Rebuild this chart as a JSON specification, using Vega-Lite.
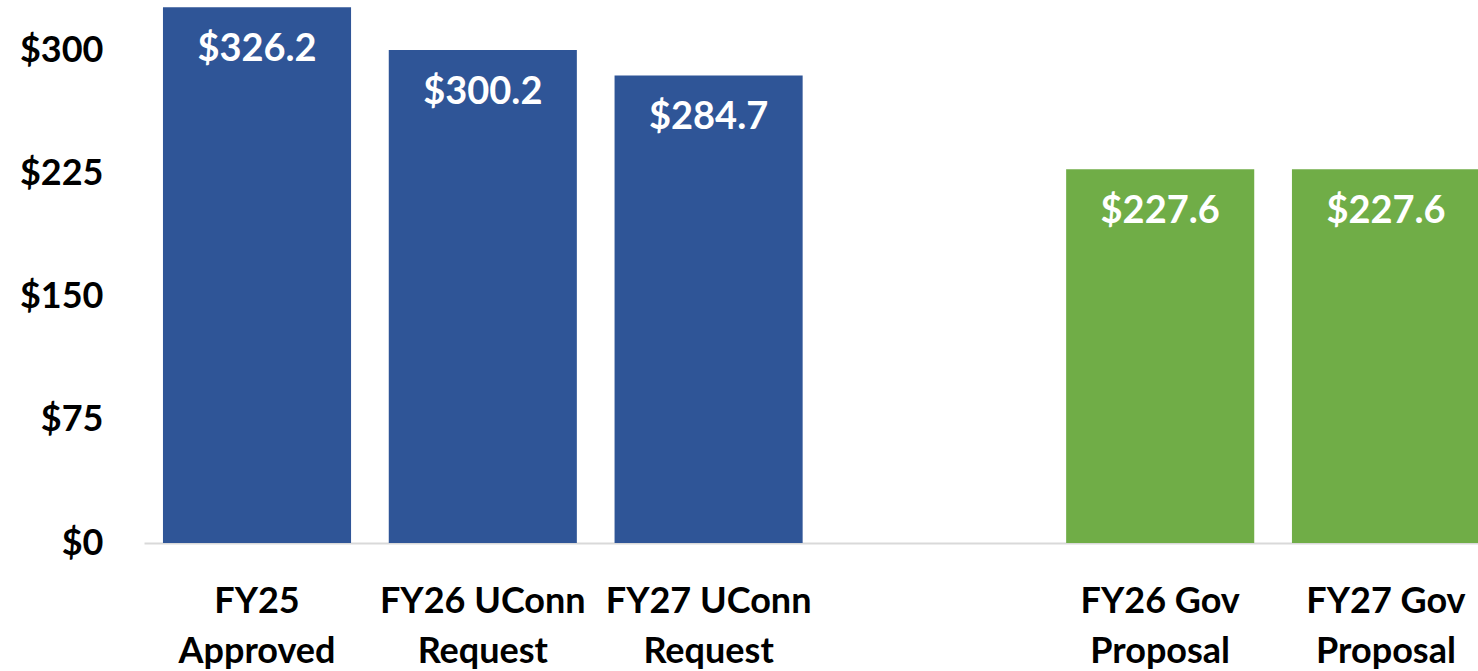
{
  "$schema": "https://vega.github.io/schema/vega-lite/v6.json",
  "autosize": {"type": "none"},
  "width": 1355,
  "height": 542,
  "padding": {"left": 144, "top": 1, "right": 0, "bottom": 128},
  "background": "white",
  "config": {"view": {"stroke": null}, "font": "Lato"},
  "data": {
    "values": [
      {"cat": "FY25|Approved", "value": 326.2, "group": "UConn"},
      {"cat": "FY26 UConn|Request", "value": 300.2, "group": "UConn"},
      {"cat": "FY27 UConn|Request", "value": 284.7, "group": "UConn"},
      {"cat": "FY26 Gov|Proposal", "value": 227.6, "group": "Gov"},
      {"cat": "FY27 Gov|Proposal", "value": 227.6, "group": "Gov"}
    ]
  },
  "encoding": {
    "x": {
      "field": "cat",
      "type": "nominal",
      "sort": null,
      "scale": {
        "domain": ["FY25|Approved", "FY26 UConn|Request", "FY27 UConn|Request", "gap", "FY26 Gov|Proposal", "FY27 Gov|Proposal"],
        "paddingInner": 0.167,
        "paddingOuter": 0.084
      },
      "axis": {
        "title": null,
        "labelAngle": 0,
        "labelExpr": "datum.value == 'gap' ? '' : split(datum.value, '|')",
        "labelFont": "Lato",
        "labelFontWeight": "bold",
        "labelFontSize": 36,
        "labelColor": "black",
        "labelLineHeight": 50,
        "labelBaseline": "alphabetic",
        "labelPadding": 69,
        "ticks": false,
        "domainColor": "#d9d9d9",
        "domainWidth": 2,
        "labelOverlap": false,
        "labelLimit": 400
      }
    },
    "y": {
      "field": "value",
      "type": "quantitative",
      "scale": {"domain": [0, 330], "nice": false},
      "axis": {
        "title": null,
        "values": [0, 75, 150, 225, 300],
        "labelExpr": "'$' + datum.value",
        "labelFont": "Lato",
        "labelFontWeight": "bold",
        "labelFontSize": 36,
        "labelColor": "black",
        "labelPadding": 41,
        "ticks": false,
        "domain": false,
        "grid": false
      }
    }
  },
  "layer": [
    {
      "mark": {"type": "bar"},
      "encoding": {
        "color": {
          "field": "group",
          "type": "nominal",
          "scale": {"domain": ["UConn", "Gov"], "range": ["#2F5597", "#70AD47"]},
          "legend": null
        }
      }
    },
    {
      "mark": {"type": "text", "color": "white", "fontWeight": "bold", "fontSize": 38, "font": "Lato", "baseline": "alphabetic", "dy": 54},
      "encoding": {
        "text": {"field": "value", "type": "quantitative", "format": "$.1f"}
      }
    }
  ]
}
